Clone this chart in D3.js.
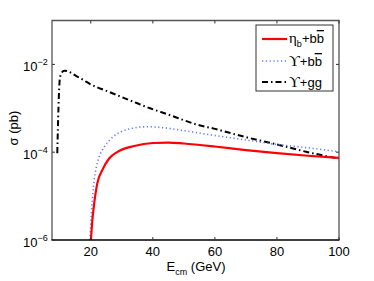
<!DOCTYPE html>
<html>
<head>
<meta charset="utf-8">
<script src="https://cdn.jsdelivr.net/npm/d3@7"></script>
<style>
  body { margin: 0; background: #fff; }
  text { font-family: "Liberation Sans", Arial, sans-serif; fill: #000; }
  .serif { font-family: "Liberation Serif", "DejaVu Serif", serif; }
</style>
</head>
<body>
<svg id="chart" width="374" height="281"></svg>
<script>
/* eta_b + b bbar */
const etaE   = [20.05, 20.5, 21.1, 22.1, 23.7, 25.9, 28.6, 34, 40, 45, 50, 60, 70, 80, 90, 100];
const etaSig = [1.0e-6, 2.8e-6, 6.8e-6, 1.95e-5, 3.9e-5, 7.2e-5, 1.02e-4, 1.38e-4, 1.62e-4, 1.66e-4, 1.58e-4, 1.35e-4, 1.12e-4, 9.5e-5, 8.3e-5, 7.4e-5];

/* Upsilon + b bbar */
const upsBbE   = [19.7, 20.2, 20.85, 21.6, 22.7, 24.3, 26.4, 29.7, 33.4, 38, 43.4, 50, 60, 70, 80, 90, 100];
const upsBbSig = [1.0e-6, 4.1e-6, 1.6e-5, 3.9e-5, 7.8e-5, 1.3e-4, 2.0e-4, 2.9e-4, 3.5e-4, 3.8e-4, 3.6e-4, 3.1e-4, 2.4e-4, 1.9e-4, 1.5e-4, 1.26e-4, 1.02e-4];

/* Upsilon + g g */
const upsGgE   = [9.2, 10.0, 10.5, 11.5, 13, 15, 17.6, 20, 25, 28.4, 35, 39.1, 45, 54, 60, 70, 80, 90, 100];
const upsGgSig = [9.5e-5, 4.5e-3, 6.3e-3, 7.2e-3, 6.8e-3, 5.6e-3, 4.4e-3, 3.5e-3, 2.5e-3, 2.0e-3, 1.3e-3, 1.0e-3, 7.2e-4, 4.3e-4, 3.4e-4, 2.2e-4, 1.5e-4, 1.0e-4, 7.1e-5];

const xTicks = [20, 40, 60, 80, 100];
const yTicks = [1e-6, 1e-4, 1e-2];
const yTickExp = ["\u22126", "\u22124", "\u22122"];

const padLeft = 52, padRight = 339, padTop = 20.5, padBottom = 240;

const svg = d3.select("#chart");

const x = d3.scaleLinear().domain([7.5, 100]).range([padLeft, padRight]);
const y = d3.scaleLog().domain([1e-6, 1e-1]).range([padBottom, padTop]);

/*clip curves to the axes box*/
svg.append("clipPath").attr("id", "clip")
   .append("rect").attr("x", padLeft).attr("y", padTop)
   .attr("width", padRight - padLeft).attr("height", padBottom - padTop);

const line = d3.line()
    .x(d => x(d[0]))
    .y(d => y(d[1]))
    .curve(d3.curveMonotoneX);

const series = [
    {E: upsGgE, s: upsGgSig, color: "#000", width: 2, dash: "6,3,1.5,3"},
    {E: upsBbE, s: upsBbSig, color: "#6478ff", width: 1.6, dash: "1.2,2.6"},
    {E: etaE,   s: etaSig,   color: "#f00", width: 2.2, dash: null}
];

const g = svg.append("g").attr("clip-path", "url(#clip)");
series.forEach(sr => {
    g.append("path")
     .datum(sr.E.map((e, i) => [e, sr.s[i]]))
     .attr("d", line)
     .attr("fill", "none")
     .attr("stroke", sr.color)
     .attr("stroke-width", sr.width)
     .attr("stroke-dasharray", sr.dash);
});

/*box: MATLAB style*/
svg.append("path")
   .attr("d", `M${padLeft},${padBottom}V${padTop}H${padRight}V${padBottom}`)
   .attr("fill", "none").attr("stroke", "#555").attr("stroke-width", 1.3);
svg.append("line")
   .attr("x1", padLeft - 0.5).attr("x2", padRight + 0.5)
   .attr("y1", padBottom).attr("y2", padBottom)
   .attr("stroke", "#000").attr("stroke-width", 1.5);

/*inward ticks*/
const tk = 3;
xTicks.forEach(t => {
    svg.append("line").attr("x1", x(t)).attr("x2", x(t)).attr("y1", padBottom).attr("y2", padBottom - tk).attr("stroke", "#333");
    svg.append("line").attr("x1", x(t)).attr("x2", x(t)).attr("y1", padTop).attr("y2", padTop + tk).attr("stroke", "#333");
    svg.append("text").attr("x", x(t)).attr("y", 255.5)
       .attr("text-anchor", "middle").style("font-size", "13px").text(t);
});
yTicks.forEach((t, i) => {
    svg.append("line").attr("x1", padLeft).attr("x2", padLeft + tk).attr("y1", y(t)).attr("y2", y(t)).attr("stroke", "#333");
    svg.append("line").attr("x1", padRight).attr("x2", padRight - tk).attr("y1", y(t)).attr("y2", y(t)).attr("stroke", "#333");
    const lab = svg.append("text").attr("x", 23).attr("y", y(t) + 6.5).style("font-size", "13px");
    lab.append("tspan").text("10");
    lab.append("tspan").attr("dy", -6).style("font-size", "9px").text(yTickExp[i]);
});

/*axis titles*/
const xl = svg.append("text").attr("x", 196).attr("y", 270.5)
   .attr("text-anchor", "middle").style("font-size", "13px");
xl.append("tspan").text("E");
xl.append("tspan").attr("dy", 4.5).style("font-size", "9px").text("cm");
xl.append("tspan").attr("dy", -4.5).text(" (GeV)");

svg.append("text")
   .attr("transform", "translate(18,128) rotate(-90)")
   .attr("text-anchor", "middle").style("font-size", "13px")
   .text("\u03c3 (pb)");

/*legend*/
const lg = svg.append("g");
lg.append("rect").attr("x", 256).attr("y", 25).attr("width", 77).attr("height", 66)
  .attr("fill", "#fff").attr("stroke", "#333").attr("stroke-width", 1);

const legRows = [series[2], series[1], series[0]];
const legY = [39, 61, 82];
legRows.forEach((sr, i) => {
    lg.append("line").attr("x1", 262).attr("x2", 287).attr("y1", legY[i]).attr("y2", legY[i])
      .attr("stroke", sr.color).attr("stroke-width", sr.width).attr("stroke-dasharray", sr.dash);
});

const t1 = lg.append("text").attr("x", 289).attr("y", legY[0] + 4).style("font-size", "13px");
t1.append("tspan").attr("class", "serif").style("font-size", "15px").text("\u03b7");
t1.append("tspan").attr("dy", 4).style("font-size", "9px").text("b");
t1.append("tspan").attr("dy", -4).text("+b");
t1.append("tspan").style("text-decoration", "overline").text("b");

const t2 = lg.append("text").attr("x", 289).attr("y", legY[1] + 5).style("font-size", "13px");
t2.append("tspan").attr("class", "serif").style("font-size", "15px").text("\u03d2");
t2.append("tspan").text("+b");
t2.append("tspan").style("text-decoration", "overline").text("b");

const t3 = lg.append("text").attr("x", 289).attr("y", legY[2] + 5).style("font-size", "13px");
t3.append("tspan").attr("class", "serif").style("font-size", "15px").text("\u03d2");
t3.append("tspan").text("+gg");
</script>
</body>
</html>
